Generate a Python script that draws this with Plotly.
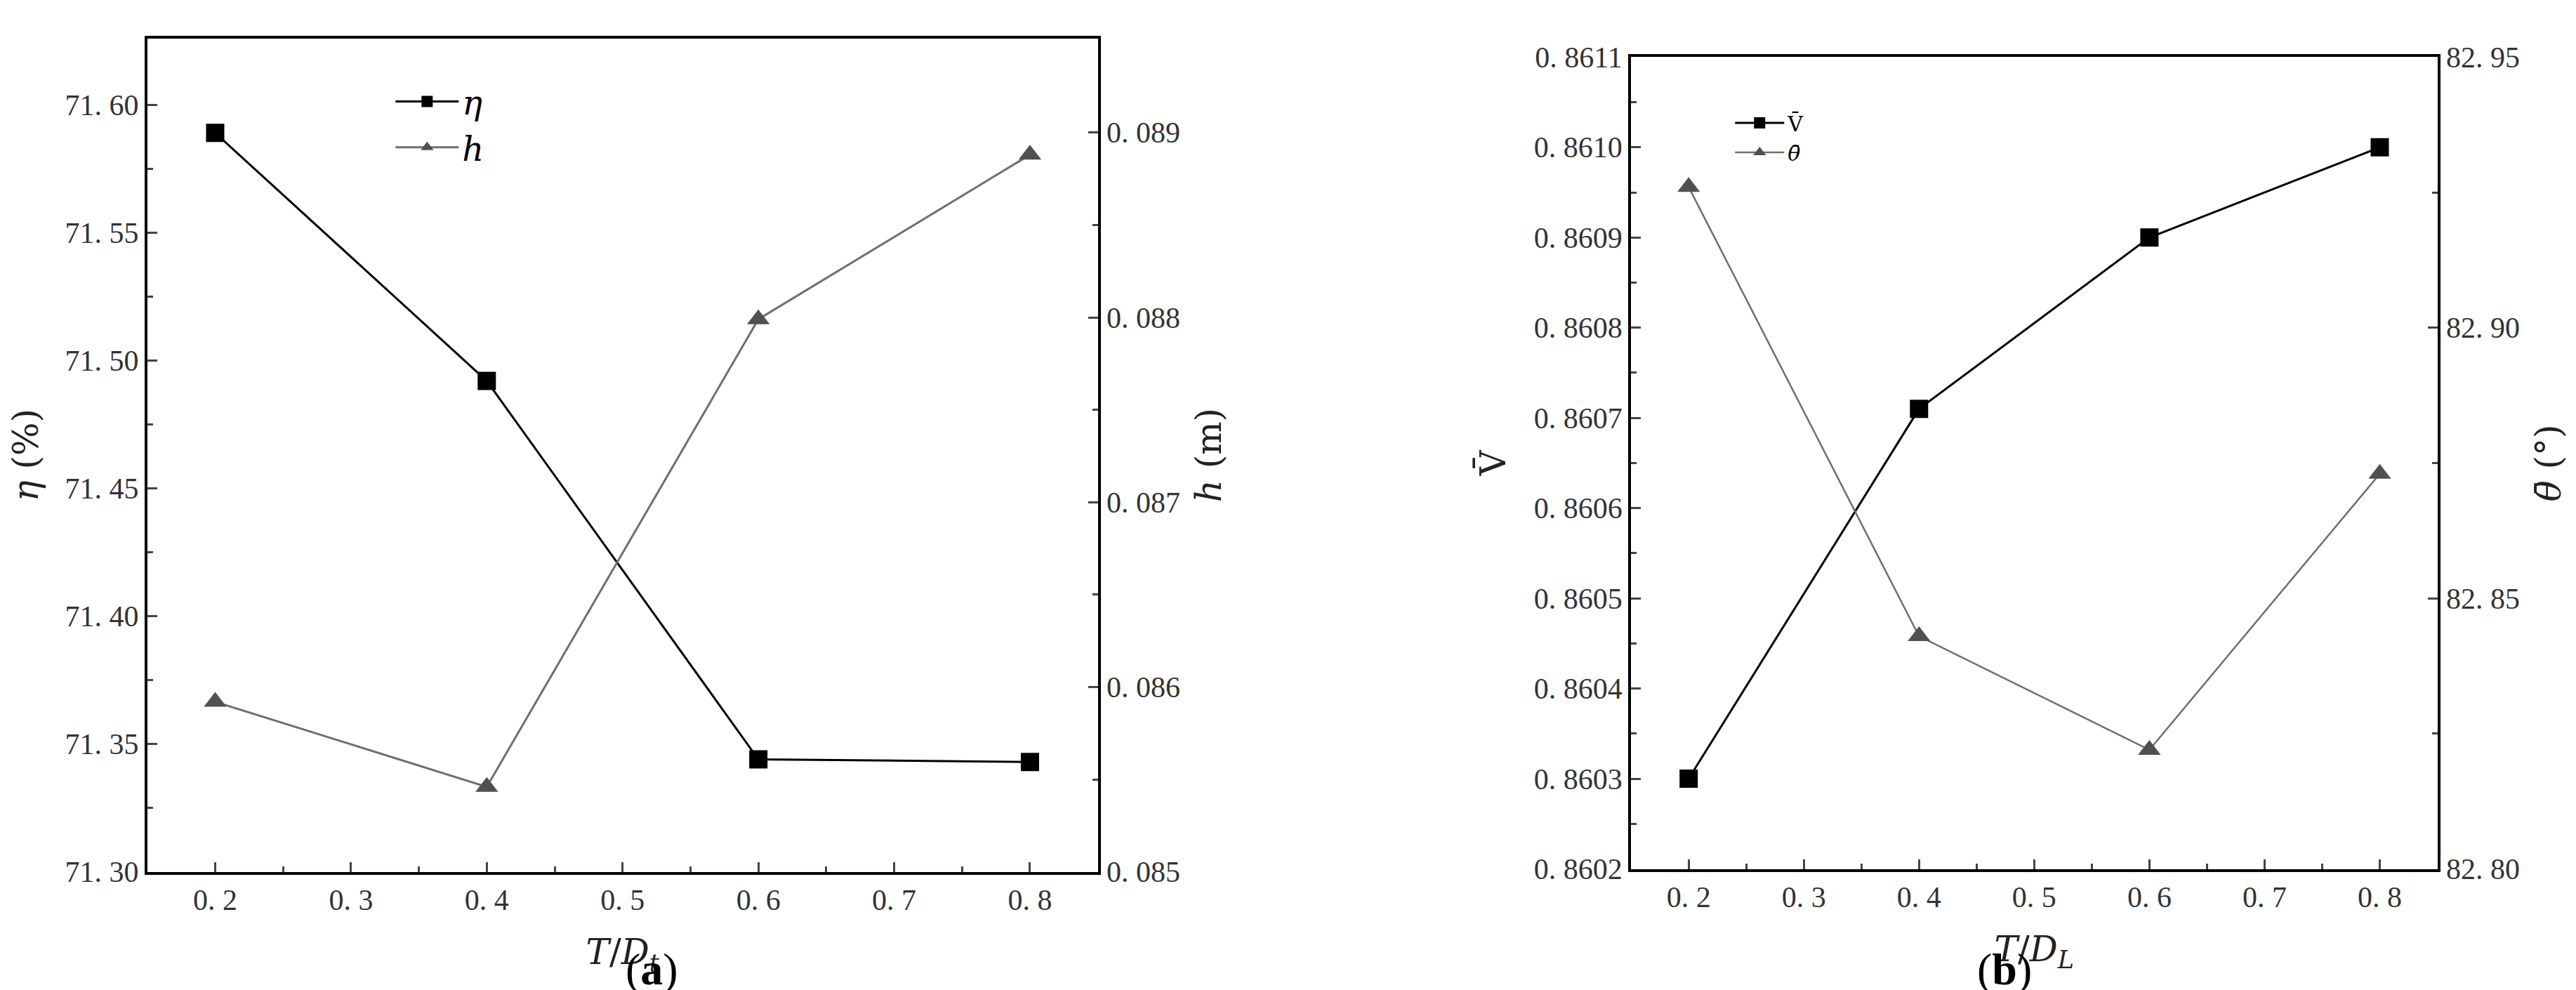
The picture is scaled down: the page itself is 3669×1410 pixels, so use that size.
import plotly.graph_objects as go

# values
td = [0.2, 0.4, 0.6, 0.8]
eta = [71.589, 71.492, 71.344, 71.343]
h = [0.08592, 0.08546, 0.08799, 0.08888]
v_mean = [0.86030, 0.86071, 0.86090, 0.86100]
theta_mean = [82.926, 82.843, 82.822, 82.873]

x_ticks = [0.2, 0.3, 0.4, 0.5, 0.6, 0.7, 0.8]
x_text = ["0. 2", "0. 3", "0. 4", "0. 5", "0. 6", "0. 7", "0. 8"]
eta_ticks = [71.30, 71.35, 71.40, 71.45, 71.50, 71.55, 71.60]
eta_text = ["71. 30", "71. 35", "71. 40", "71. 45", "71. 50", "71. 55", "71. 60"]
h_ticks = [0.085, 0.086, 0.087, 0.088, 0.089]
h_text = ["0. 085", "0. 086", "0. 087", "0. 088", "0. 089"]
v_ticks = [0.8602 + 0.0001 * i for i in range(10)]
v_text = ["0. 86%02d" % (2 + i) for i in range(10)]
th_ticks = [82.80, 82.85, 82.90, 82.95]
th_text = ["82. 80", "82. 85", "82. 90", "82. 95"]

FONT = "DejaVu Serif"
BLACK = "#000000"
GREY = "#6f6f6f"
MGREY = "#505050"

fig = go.Figure()
fig.add_trace(go.Scatter(x=td, y=eta, name="<i>η</i>", xaxis="x", yaxis="y", legend="legend",
                         mode="lines+markers", line=dict(color=BLACK, width=3),
                         marker=dict(symbol="square", size=26, color=BLACK)))
fig.add_trace(go.Scatter(x=td, y=h, name="<i>h</i>", xaxis="x", yaxis="y2", legend="legend",
                         mode="lines+markers", line=dict(color=GREY, width=3),
                         marker=dict(symbol="triangle-up", size=28, color=MGREY)))
fig.add_trace(go.Scatter(x=td, y=v_mean, name="V̄", xaxis="x2", yaxis="y3", legend="legend2",
                         mode="lines+markers", line=dict(color=BLACK, width=3),
                         marker=dict(symbol="square", size=26, color=BLACK)))
fig.add_trace(go.Scatter(x=td, y=theta_mean, name="<i>θ̄</i>", xaxis="x2", yaxis="y4", legend="legend2",
                         mode="lines+markers", line=dict(color=GREY, width=2.5),
                         marker=dict(symbol="triangle-up", size=28, color=MGREY)))

tick_font = dict(family="Liberation Serif", size=42, color="#333333")
title_font = dict(family=FONT, size=50, color="#222222")


def xax(domain, anchor, title):
    return dict(domain=domain, anchor=anchor, range=[0.15, 0.85], tickvals=x_ticks, ticktext=x_text,
                ticks="inside", ticklen=14, tickwidth=3, showline=True, linecolor=BLACK, linewidth=4,
                mirror=True, showgrid=False, zeroline=False, tickfont=tick_font, automargin=False,
                title=dict(text=title, font=title_font, standoff=35),
                minor=dict(tickvals=[0.25, 0.35, 0.45, 0.55, 0.65, 0.75], ticks="inside", ticklen=8))


def yax(domain_anchor, rng, vals, text, title, side="left", overlay=None, minor=None):
    d = dict(anchor=domain_anchor, range=rng, tickvals=vals, ticktext=text, side=side,
             ticks="inside", ticklen=14, tickwidth=3, showline=True, linecolor=BLACK, linewidth=4,
             showgrid=False, zeroline=False, tickfont=tick_font, automargin=False,
             title=dict(text=title, font=title_font, standoff=25))
    if overlay:
        d["overlaying"] = overlay
    if minor:
        d["minor"] = dict(tickvals=minor, ticks="inside", ticklen=8)
    return d


fig.update_layout(
    width=3669, height=1410, paper_bgcolor="white", plot_bgcolor="white",
    margin=dict(l=0, r=0, t=0, b=0),
    xaxis=xax([0.055, 0.424], "y", "<i>T</i>/<i>D<sub>t</sub></i>"),
    yaxis=dict(domain=[0.125, 0.967], **yax("x", [71.30, 71.626], eta_ticks, eta_text, "<i>η</i> (%)",
                                              minor=[71.325 + 0.05 * i for i in range(6)])),
    yaxis2=yax("x", [0.085, 0.08951], h_ticks, h_text, "<i>h</i> (m)", side="right", overlay="y",
               minor=[0.0855 + 0.001 * i for i in range(4)]),
    xaxis2=xax([0.631, 0.944], "y3", "<i>T</i>/<i>D<sub>L</sub></i>"),
    yaxis3=dict(domain=[0.128, 0.948], **yax("x2", [0.8602, 0.8611], v_ticks, v_text, "V̄",
                                               minor=[0.86025 + 0.0001 * i for i in range(9)])),
    yaxis4=yax("x2", [82.80, 82.95], th_ticks, th_text, "<i>θ̄</i> (°)", side="right", overlay="y3",
               minor=[82.825, 82.875, 82.925]),
    legend=dict(x=0.15, y=0.93, xanchor="left", yanchor="top", bgcolor="rgba(0,0,0,0)",
                font=dict(family=FONT, size=48, color=BLACK), itemwidth=90, tracegroupgap=0),
    legend2=dict(x=0.67, y=0.90, xanchor="left", yanchor="top", bgcolor="rgba(0,0,0,0)",
                 font=dict(family=FONT, size=30, color=BLACK), itemwidth=70),
    showlegend=True,
    annotations=[
        dict(text="(<b>a</b>)", x=0.24, y=0.0, xref="paper", yref="paper", yanchor="bottom",
             showarrow=False, font=dict(family="Liberation Serif", size=64, color=BLACK)),
        dict(text="(<b>b</b>)", x=0.787, y=0.0, xref="paper", yref="paper", yanchor="bottom",
             showarrow=False, font=dict(family="Liberation Serif", size=64, color=BLACK)),
    ],
)

fig.write_html("out.html")
